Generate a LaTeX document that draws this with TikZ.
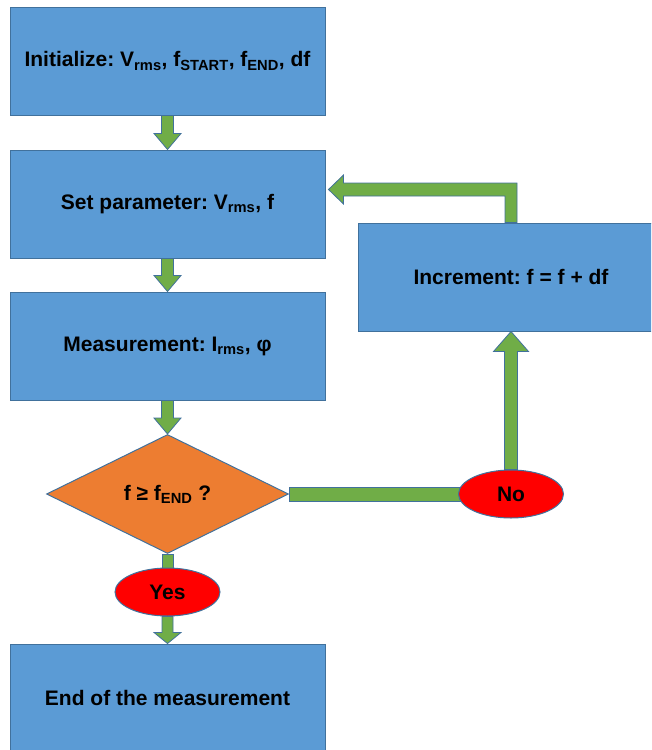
\documentclass[tikz,border=0pt]{standalone}
\usepackage{fontspec}
\setmainfont{Liberation Sans}
\usetikzlibrary{shapes.geometric,calc,backgrounds}

\definecolor{boxblue}{HTML}{5B9BD5}
\definecolor{edgeblue}{HTML}{41719C}
\definecolor{arrowgreen}{HTML}{70AD47}
\definecolor{testorange}{HTML}{ED7D31}

\tikzset{
  flowtext/.style={font=\fontsize{21}{25}\selectfont\bfseries\frenchspacing},
  flowbox/.style={flowtext, draw=edgeblue, fill=boxblue, line width=1pt,
    minimum width=315pt, minimum height=108pt, inner sep=0pt},
  testbox/.style={flowtext, diamond, draw=edgeblue, fill=testorange, line width=1pt,
    minimum width=242pt, minimum height=119pt, inner sep=0pt},
  answer/.style={flowtext, ellipse, draw=edgeblue, fill=red, line width=1pt,
    minimum width=105pt, minimum height=48pt, inner sep=0pt},
  greenarrow/.style={draw=edgeblue, fill=arrowgreen, line width=0.8pt, line join=miter}
}

% block arrow: from, to, half shaft, half head, head length
\newcommand{\blockarrow}[5]{%
  \coordinate (hb) at ($(#2)!#5!(#1)$);
  \draw[greenarrow] ($(#1)!#3!90:(#2)$) -- ($(hb)!#3!-90:(#1)$)
    -- ($(hb)!#4!-90:(#1)$) -- (#2) -- ($(hb)!#4!90:(#1)$)
    -- ($(hb)!#3!90:(#1)$) -- ($(#1)!#3!-90:(#2)$) -- cycle;
}
% block bar without head: from, to, half width
\newcommand{\blockbar}[3]{%
  \draw[greenarrow] ($(#1)!#3!90:(#2)$) -- ($(#2)!#3!-90:(#1)$)
    -- ($(#2)!#3!90:(#1)$) -- ($(#1)!#3!-90:(#2)$) -- cycle;
}

\begin{document}
\begin{tikzpicture}[x=1pt, y=-1pt]
        \clip (0,0) rectangle (651,750);
        \useasboundingbox (0,0) rectangle (651,750);

        % Draw the boxes of the main column
        \node[flowbox] (init) at (167.5,61) {Initialize: V\textsubscript{rms}, f\textsubscript{START}, f\textsubscript{END}, df};
        \node[flowbox] (setp) at (167.5,204) {Set parameter: V\textsubscript{rms}, f};
        \node[flowbox] (meas) at (167.5,346) {Measurement: I\textsubscript{rms}, φ};
        \node[testbox] (test) at (167.5,494) {f ≥ f\textsubscript{END} ?};
        \node[answer] (yes) at (167.5,592) {Yes};
        \node[flowbox] (stop) at (167.5,698) {End of the measurement};

        % Loop back on the right
        \node[answer] (no) at (511,494) {No};
        \node[flowbox, minimum width=306pt] (inc) at (511,277) {Increment: f = f + df};
        \coordinate (ret) at ($(setp.east)+(3,-14.5)$);

        \begin{pgfonlayer}{background}
        % Draw arrows down the main column
        \foreach \a/\b in {init/setp, setp/meas, meas/test} {
            \blockarrow{\a.south}{\b.north}{6pt}{13.5pt}{16pt}
        }
        \blockbar{test.south}{yes.center}{5.5pt}
        \blockarrow{yes.south}{stop.north}{5.5pt}{13.5pt}{11pt}

        % Draw the loop
        \blockbar{test.east}{no.center}{7pt}
        \blockarrow{no.north}{no.north |- inc.south}{6.5pt}{17.5pt}{20pt}
        \draw[greenarrow] ($(inc.north)+(6,0)$) -- ($(inc.north |- ret)+(6,-6.5)$)
            -- ($(ret)+(15,-6.5)$) -- ++(0,-8) -- (ret) -- ($(ret)+(15,14.5)$)
            -- ++(0,-8) -- ($(inc.north |- ret)+(-6,6.5)$) -- ($(inc.north)+(-6,0)$) -- cycle;
        \end{pgfonlayer}
\end{tikzpicture}
\end{document}
